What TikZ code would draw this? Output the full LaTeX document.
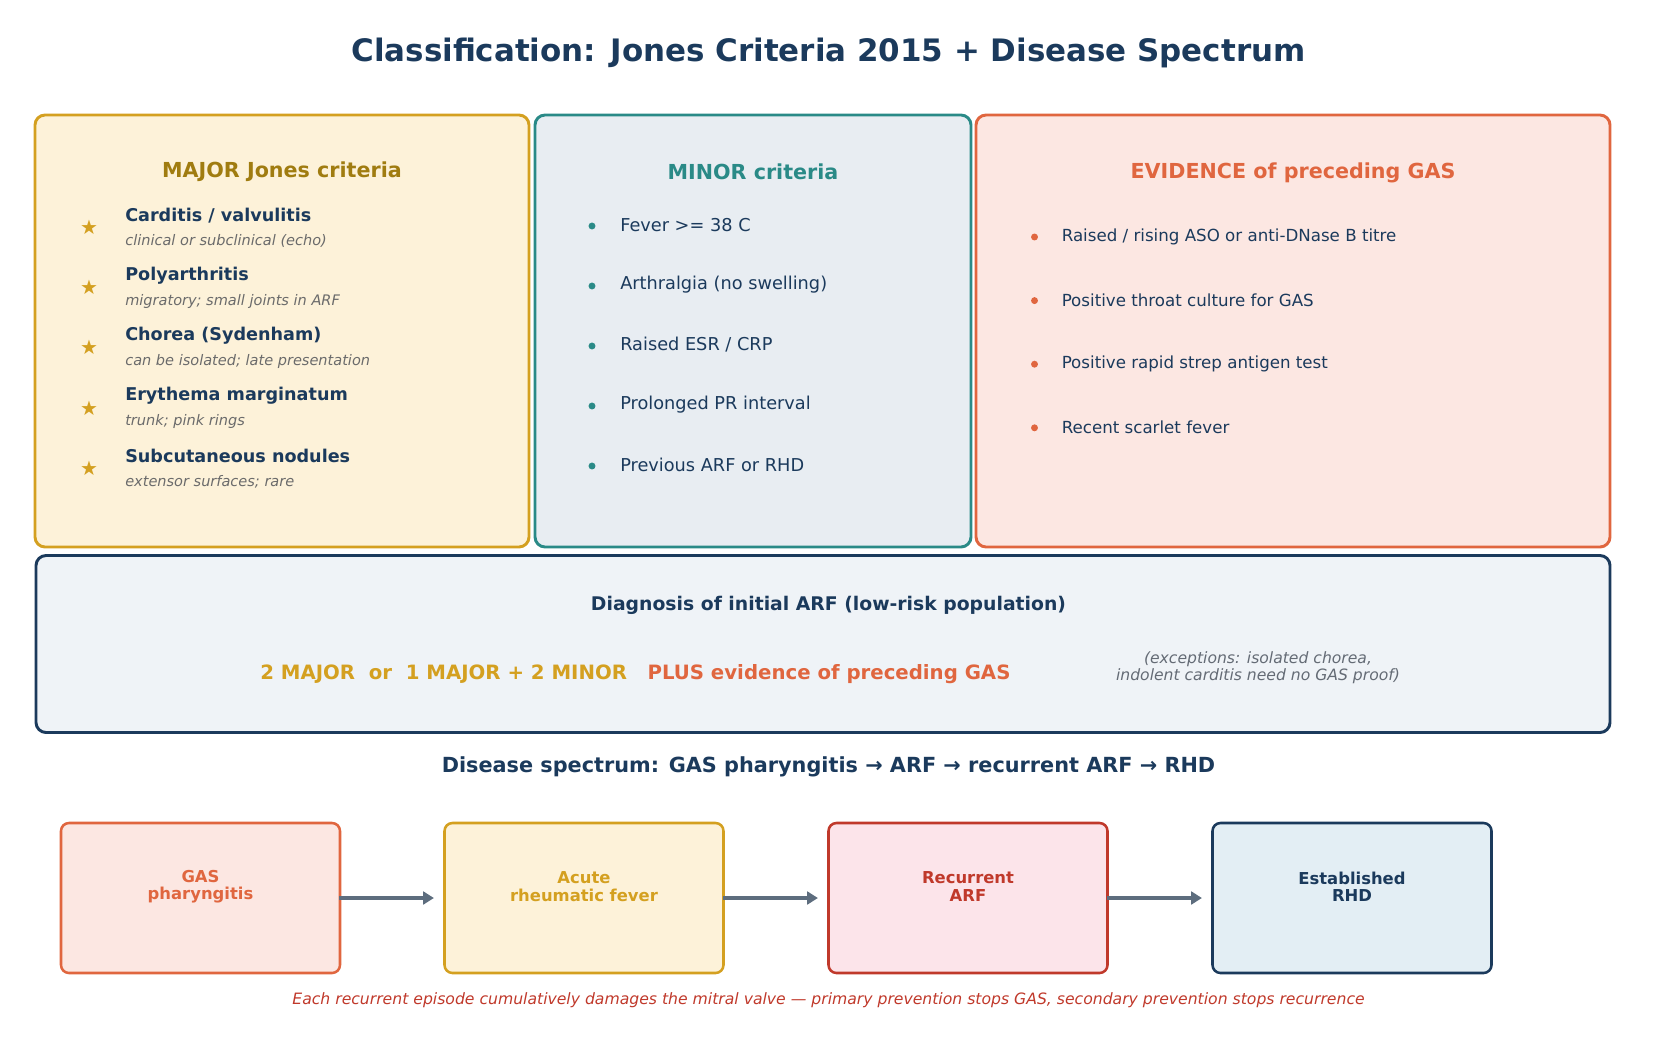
\documentclass[tikz,border=0pt]{standalone}
\usepackage{fontspec}
\setmainfont{DejaVu Sans}
\usetikzlibrary{arrows.meta}
\definecolor{navy}{HTML}{1B3A5C}
\definecolor{goldb}{HTML}{D4A020}
\definecolor{goldt}{HTML}{A07C10}
\definecolor{goldf}{HTML}{FDF2D9}
\definecolor{tealc}{HTML}{2A8A87}
\definecolor{tealf}{HTML}{E8EDF2}
\definecolor{orangec}{HTML}{E0663F}
\definecolor{orangef}{HTML}{FCE7E2}
\definecolor{diagf}{HTML}{EFF3F7}
\definecolor{redc}{HTML}{C0392B}
\definecolor{redf}{HTML}{FCE4EA}
\definecolor{bluef}{HTML}{E3EEF4}
\definecolor{greyt}{HTML}{6B6B6B}
\definecolor{greye}{HTML}{646B75}
\definecolor{arrowc}{HTML}{5D6D7E}
\newcommand\fsz[2]{\fontsize{#1}{#2}\selectfont}
\begin{document}
\begin{tikzpicture}[x=0.75pt,y=-0.75pt,
  wh/.style 2 args={minimum width=#1*0.75pt, minimum height=#2*0.75pt},
  tx/.style={yshift=-1.6pt},
  panel/.style={draw, rounded corners=7.5pt, line width=2.2pt, inner sep=0pt},
  ptitle/.style={tx, inner sep=0pt, font={\fsz{15.5}{18}\bfseries}},
  lbl/.style={tx, anchor=west, inner sep=0pt, text=navy, font={\fsz{13.2}{16}\bfseries}},
  sub/.style={tx, anchor=west, inner sep=0pt, text=greyt, font={\fsz{10.9}{13}\itshape}},
  starc/.style={inner sep=0pt, text=goldb, font={\fsz{15}{18}}},
  item/.style={tx, anchor=west, inner sep=0pt, text=navy, font={\fsz{13.3}{16}}},
  eitem/.style={tx, anchor=west, inner sep=0pt, text=navy, font={\fsz{12.5}{15}}},
  dot/.style={circle, inner sep=0pt, minimum size=5.2pt, fill=#1},
  stage/.style={draw, rounded corners=6pt, line width=1.9pt, wh={279}{150}, inner sep=0pt},
  stagetxt/.style={tx, align=center, font={\fsz{12.3}{13.2}\bfseries}, inner sep=0pt},
  arr/.style={draw=arrowc, line width=3pt, -{Triangle[length=8pt,width=9.5pt]}, shorten <=-1.5pt}
]
\useasboundingbox (0,0) rectangle (1657,1046);

% title
\node[tx, text=navy, font={\fsz{23.2}{28}\bfseries}] (title) at (828.5,51) {Classification: Jones Criteria 2015 + Disease Spectrum};

% panels
\node[panel, draw=goldb, fill=goldf, wh={494}{432}] (major) at (282,331) {};
\node[panel, draw=tealc, fill=tealf, wh={436}{432}] (minor) at (753,331) {};
\node[panel, draw=orangec, fill=orangef, wh={634}{432}] (evid) at (1293,331) {};

% major
\node[ptitle, text=goldt] (majt) at (282,170) {MAJOR Jones criteria};
\foreach \i/\a/\b in {0/{Carditis / valvulitis}/{clinical or subclinical (echo)},
                      1/{Polyarthritis}/{migratory; small joints in ARF},
                      2/{Chorea (Sydenham)}/{can be isolated; late presentation},
                      3/{Erythema marginatum}/{trunk; pink rings},
                      4/{Subcutaneous nodules}/{extensor surfaces; rare}}{
  \node[starc] (st\i) at (89,227.3+60.2*\i) {★};
  \node[lbl] (ml\i) at (125,213.3+60.2*\i) {\a};
  \node[sub] (ms\i) at (125,239+60.2*\i) {\b};
}

% minor
\node[ptitle, text=tealc] (mint) at (753,170) {MINOR criteria};
\foreach \i/\a in {0/{Fever >= 38 C}, 1/{Arthralgia (no swelling)}, 2/{Raised ESR / CRP},
                   3/{Prolonged PR interval}, 4/{Previous ARF or RHD}}{
  \node[dot=tealc] (md\i) at (592,226+60*\i) {};
  \node[item] (mi\i) at (620,222.7+60*\i) {\a};
}

% evidence
\node[ptitle, text=orangec] (evt) at (1293,171) {EVIDENCE of preceding GAS};
\foreach \i/\a in {0/{Raised / rising ASO or anti-DNase B titre}, 1/{Positive throat culture for GAS},
                   2/{Positive rapid strep antigen test}, 3/{Recent scarlet fever}}{
  \node[dot=orangec] (ed\i) at (1034.5,237+63.6*\i) {};
  \node[eitem] (ei\i) at (1061.5,234.3+63.6*\i) {\a};
}

% diagnosis
\node[panel, draw=navy, fill=diagf, wh={1574}{177}] (diag) at (823,644) {};
\node[tx, inner sep=0pt, text=navy, font={\fsz{14.1}{17}\bfseries}] (diagt) at (828.5,603.5) {Diagnosis of initial ARF (low-risk population)};
\node[tx, anchor=west, inner sep=0pt, text=goldb, font={\fsz{14.8}{18}\bfseries}] (f1) at (260,672) {2 MAJOR\ \ or\ \ 1 MAJOR + 2 MINOR};
\node[tx, anchor=west, inner sep=0pt, text=orangec, font={\fsz{14.8}{18}\bfseries}] (f2) at (647.3,672) {PLUS evidence of preceding GAS};
\node[tx, align=center, inner sep=0pt, text=greye, font={\fsz{11.7}{13.2}\itshape}] (exc) at (1258,665.5) {(exceptions: isolated chorea,\\indolent carditis need no GAS proof)};

% spectrum
\node[tx, inner sep=0pt, text=navy, font={\fsz{15.6}{19}\bfseries}] (spt) at (828.5,765) {Disease spectrum: GAS pharyngitis → ARF → recurrent ARF → RHD};

\node[stage, draw=orangec, fill=orangef] (s1) at (200.5,898) {};
\node[stage, draw=goldb, fill=goldf] (s2) at (584,898) {};
\node[stage, draw=redc, fill=redf] (s3) at (968,898) {};
\node[stage, draw=navy, fill=bluef] (s4) at (1352,898) {};
\node[stagetxt, text=orangec] (s1t) at (200.5,884.5) {GAS\\pharyngitis};
\node[stagetxt, text=goldb] (s2t) at (584,884.5) {Acute\\rheumatic fever};
\node[stagetxt, text=redc] (s3t) at (968,884.5) {Recurrent\\ARF};
\node[stagetxt, text=navy] (s4t) at (1352,884.5) {Established\\RHD};

\draw[arr] (s1.east) -- ([xshift=-7pt]s2.west);
\draw[arr] (s2.east) -- ([xshift=-7pt]s3.west);
\draw[arr] (s3.east) -- ([xshift=-7pt]s4.west);

\node[tx, inner sep=0pt, text=redc, font={\fsz{11.73}{14}\itshape}] (foot) at (828.5,998) {Each recurrent episode cumulatively damages the mitral valve — primary prevention stops GAS, secondary prevention stops recurrence};
\end{tikzpicture}
\end{document}
